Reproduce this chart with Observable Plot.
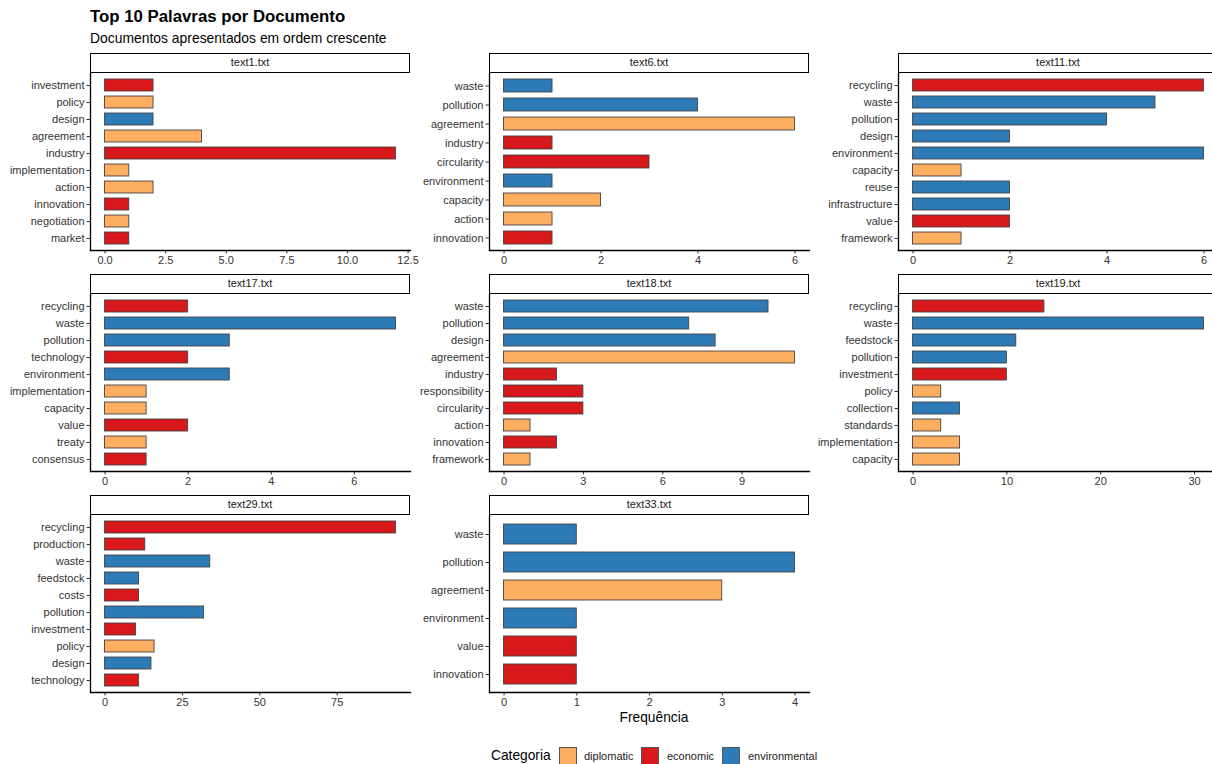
<!DOCTYPE html>
<html><head><meta charset="utf-8">
<script src="https://cdn.jsdelivr.net/npm/d3@7"></script>
<script src="https://cdn.jsdelivr.net/npm/@observablehq/plot@0.6"></script>
<style>
body{margin:0;background:#fff;font-family:"Liberation Sans",Arial,sans-serif;}
#chart{position:relative;width:1212px;height:764px;overflow:hidden;background:#fff;}
.abs{position:absolute;white-space:nowrap;}
.strip{position:absolute;box-sizing:border-box;border:1.4px solid #000;background:#fff;font-size:11px;color:#1a1a1a;text-align:center;line-height:17px;}
.key{position:absolute;box-sizing:border-box;width:18px;height:18px;border:1px solid #555;}
</style></head><body><div id="chart"></div>
<script>
// ---- data ----
const categories = ["diplomatic", "economic", "environmental"];
const palette = ["#FDAE61", "#D7191C", "#2C7BB6"];
const documents = ["text1.txt","text6.txt","text11.txt","text17.txt","text18.txt","text19.txt","text29.txt","text33.txt"];

const text1_words = ["investment","policy","design","agreement","industry","implementation","action","innovation","negotiation","market"];
const text1_freq  = [2,2,2,4,12,1,2,1,1,1];
const text1_cat   = ["economic","diplomatic","environmental","diplomatic","economic","diplomatic","diplomatic","economic","diplomatic","economic"];
const text1_ticks = [0,2.5,5,7.5,10,12.5];

const text6_words = ["waste","pollution","agreement","industry","circularity","environment","capacity","action","innovation"];
const text6_freq  = [1,4,6,1,3,1,2,1,1];
const text6_cat   = ["environmental","environmental","diplomatic","economic","economic","environmental","diplomatic","diplomatic","economic"];
const text6_ticks = [0,2,4,6];

const text11_words = ["recycling","waste","pollution","design","environment","capacity","reuse","infrastructure","value","framework"];
const text11_freq  = [6,5,4,2,6,1,2,2,2,1];
const text11_cat   = ["economic","environmental","environmental","environmental","environmental","diplomatic","environmental","environmental","economic","diplomatic"];
const text11_ticks = [0,2,4,6];

const text17_words = ["recycling","waste","pollution","technology","environment","implementation","capacity","value","treaty","consensus"];
const text17_freq  = [2,7,3,2,3,1,1,2,1,1];
const text17_cat   = ["economic","environmental","environmental","economic","environmental","diplomatic","diplomatic","economic","diplomatic","economic"];
const text17_ticks = [0,2,4,6];

const text18_words = ["waste","pollution","design","agreement","industry","responsibility","circularity","action","innovation","framework"];
const text18_freq  = [10,7,8,11,2,3,3,1,2,1];
const text18_cat   = ["environmental","environmental","environmental","diplomatic","economic","economic","economic","diplomatic","economic","diplomatic"];
const text18_ticks = [0,3,6,9];

const text19_words = ["recycling","waste","feedstock","pollution","investment","policy","collection","standards","implementation","capacity"];
const text19_freq  = [14,31,11,10,10,3,5,3,5,5];
const text19_cat   = ["economic","environmental","environmental","environmental","economic","diplomatic","environmental","diplomatic","diplomatic","diplomatic"];
const text19_ticks = [0,10,20,30];

const text29_words = ["recycling","production","waste","feedstock","costs","pollution","investment","policy","design","technology"];
const text29_freq  = [94,13,34,11,11,32,10,16,15,11];
const text29_cat   = ["economic","economic","environmental","environmental","economic","environmental","economic","diplomatic","environmental","economic"];
const text29_ticks = [0,25,50,75];

const text33_words = ["waste","pollution","agreement","environment","value","innovation"];
const text33_freq  = [1,4,3,1,1,1];
const text33_cat   = ["environmental","environmental","diplomatic","environmental","economic","economic"];
const text33_ticks = [0,1,2,3,4];

const panels = [
  [text1_words, text1_freq, text1_cat, text1_ticks],
  [text6_words, text6_freq, text6_cat, text6_ticks],
  [text11_words, text11_freq, text11_cat, text11_ticks],
  [text17_words, text17_freq, text17_cat, text17_ticks],
  [text18_words, text18_freq, text18_cat, text18_ticks],
  [text19_words, text19_freq, text19_cat, text19_ticks],
  [text29_words, text29_freq, text29_cat, text29_ticks],
  [text33_words, text33_freq, text33_cat, text33_ticks]
];

// ---- layout ----
const chart = document.getElementById("chart");
const FONT = "'Liberation Sans', Arial, Helvetica, sans-serif";
const colLeft = [90, 489, 898];
const rowTop = [53, 274, 495];
const panelW = 320, stripH = 20, plotH = 177, mL = 90, mR = 16, mB = 28;

function addDiv(cls, css, text) {
  const d = document.createElement("div");
  d.className = cls;
  Object.assign(d.style, css);
  if (text != null) d.textContent = text;
  chart.appendChild(d);
  return d;
}

addDiv("abs", {left: "90px", top: "9px", fontSize: "16.8px", fontWeight: "bold", lineHeight: "16.8px", color: "#000"}, "Top 10 Palavras por Documento");
addDiv("abs", {left: "90px", top: "31.5px", fontSize: "13.9px", lineHeight: "13.9px", color: "#000"}, "Documentos apresentados em ordem crescente");

panels.forEach(([words, freq, cats, ticks], i) => {
  const col = i % 3, row = Math.floor(i / 3);
  const left = colLeft[col], top = rowTop[row];
  addDiv("strip", {left: left + "px", top: top + "px", width: panelW + "px", height: stripH + "px"}, documents[i]);
  const rows = words.map((w, j) => ({word: w, freq: freq[j], cat: cats[j]}));
  const max = d3.max(freq);
  const decimals = ticks.some(t => !Number.isInteger(t)) ? 1 : 0;
  const fmt = d3.format("." + decimals + "f");
  const svg = Plot.plot({
    width: mL + panelW + mR, height: plotH + mB,
    marginLeft: mL, marginRight: mR, marginTop: 0, marginBottom: mB,
    style: {fontFamily: FONT, fontSize: "11px", background: "transparent", color: "#333", overflow: "visible"},
    x: {domain: [-0.05 * max, 1.05 * max]},
    y: {domain: words, paddingInner: 0.3, paddingOuter: 0.25},
    color: {domain: categories, range: palette},
    marks: [
      Plot.barX(rows, {x: "freq", y: "word", fill: "cat", stroke: "#444", strokeWidth: 0.9}),
      Plot.axisY({tickSize: 3.5, tickPadding: 2.5, fontSize: 11, label: null}),
      Plot.axisX({ticks: ticks, tickFormat: fmt, tickSize: 3.5, tickPadding: 2, fontSize: 11, label: null}),
      Plot.frame({anchor: "left", stroke: "#000", strokeWidth: 1.3}),
      Plot.frame({anchor: "bottom", stroke: "#000", strokeWidth: 1.3})
    ]
  });
  svg.style.position = "absolute";
  svg.style.left = (left - mL) + "px";
  svg.style.top = (top + stripH) + "px";
  chart.appendChild(svg);
});

// x axis title
addDiv("abs", {left: "654px", top: "711px", transform: "translateX(-50%)", fontSize: "13.75px", lineHeight: "14px", color: "#000"}, "Frequência");

// legend
addDiv("abs", {left: "491px", top: "749px", fontSize: "13.75px", lineHeight: "14px", color: "#000"}, "Categoria");
const keyX = [559, 641, 722], labX = [584, 667, 748];
categories.forEach((c, k) => {
  addDiv("key", {left: keyX[k] + "px", top: "747px", background: palette[k]});
  addDiv("abs", {left: labX[k] + "px", top: "750px", fontSize: "11px", lineHeight: "12px", color: "#1a1a1a"}, c);
});
</script></body></html>
